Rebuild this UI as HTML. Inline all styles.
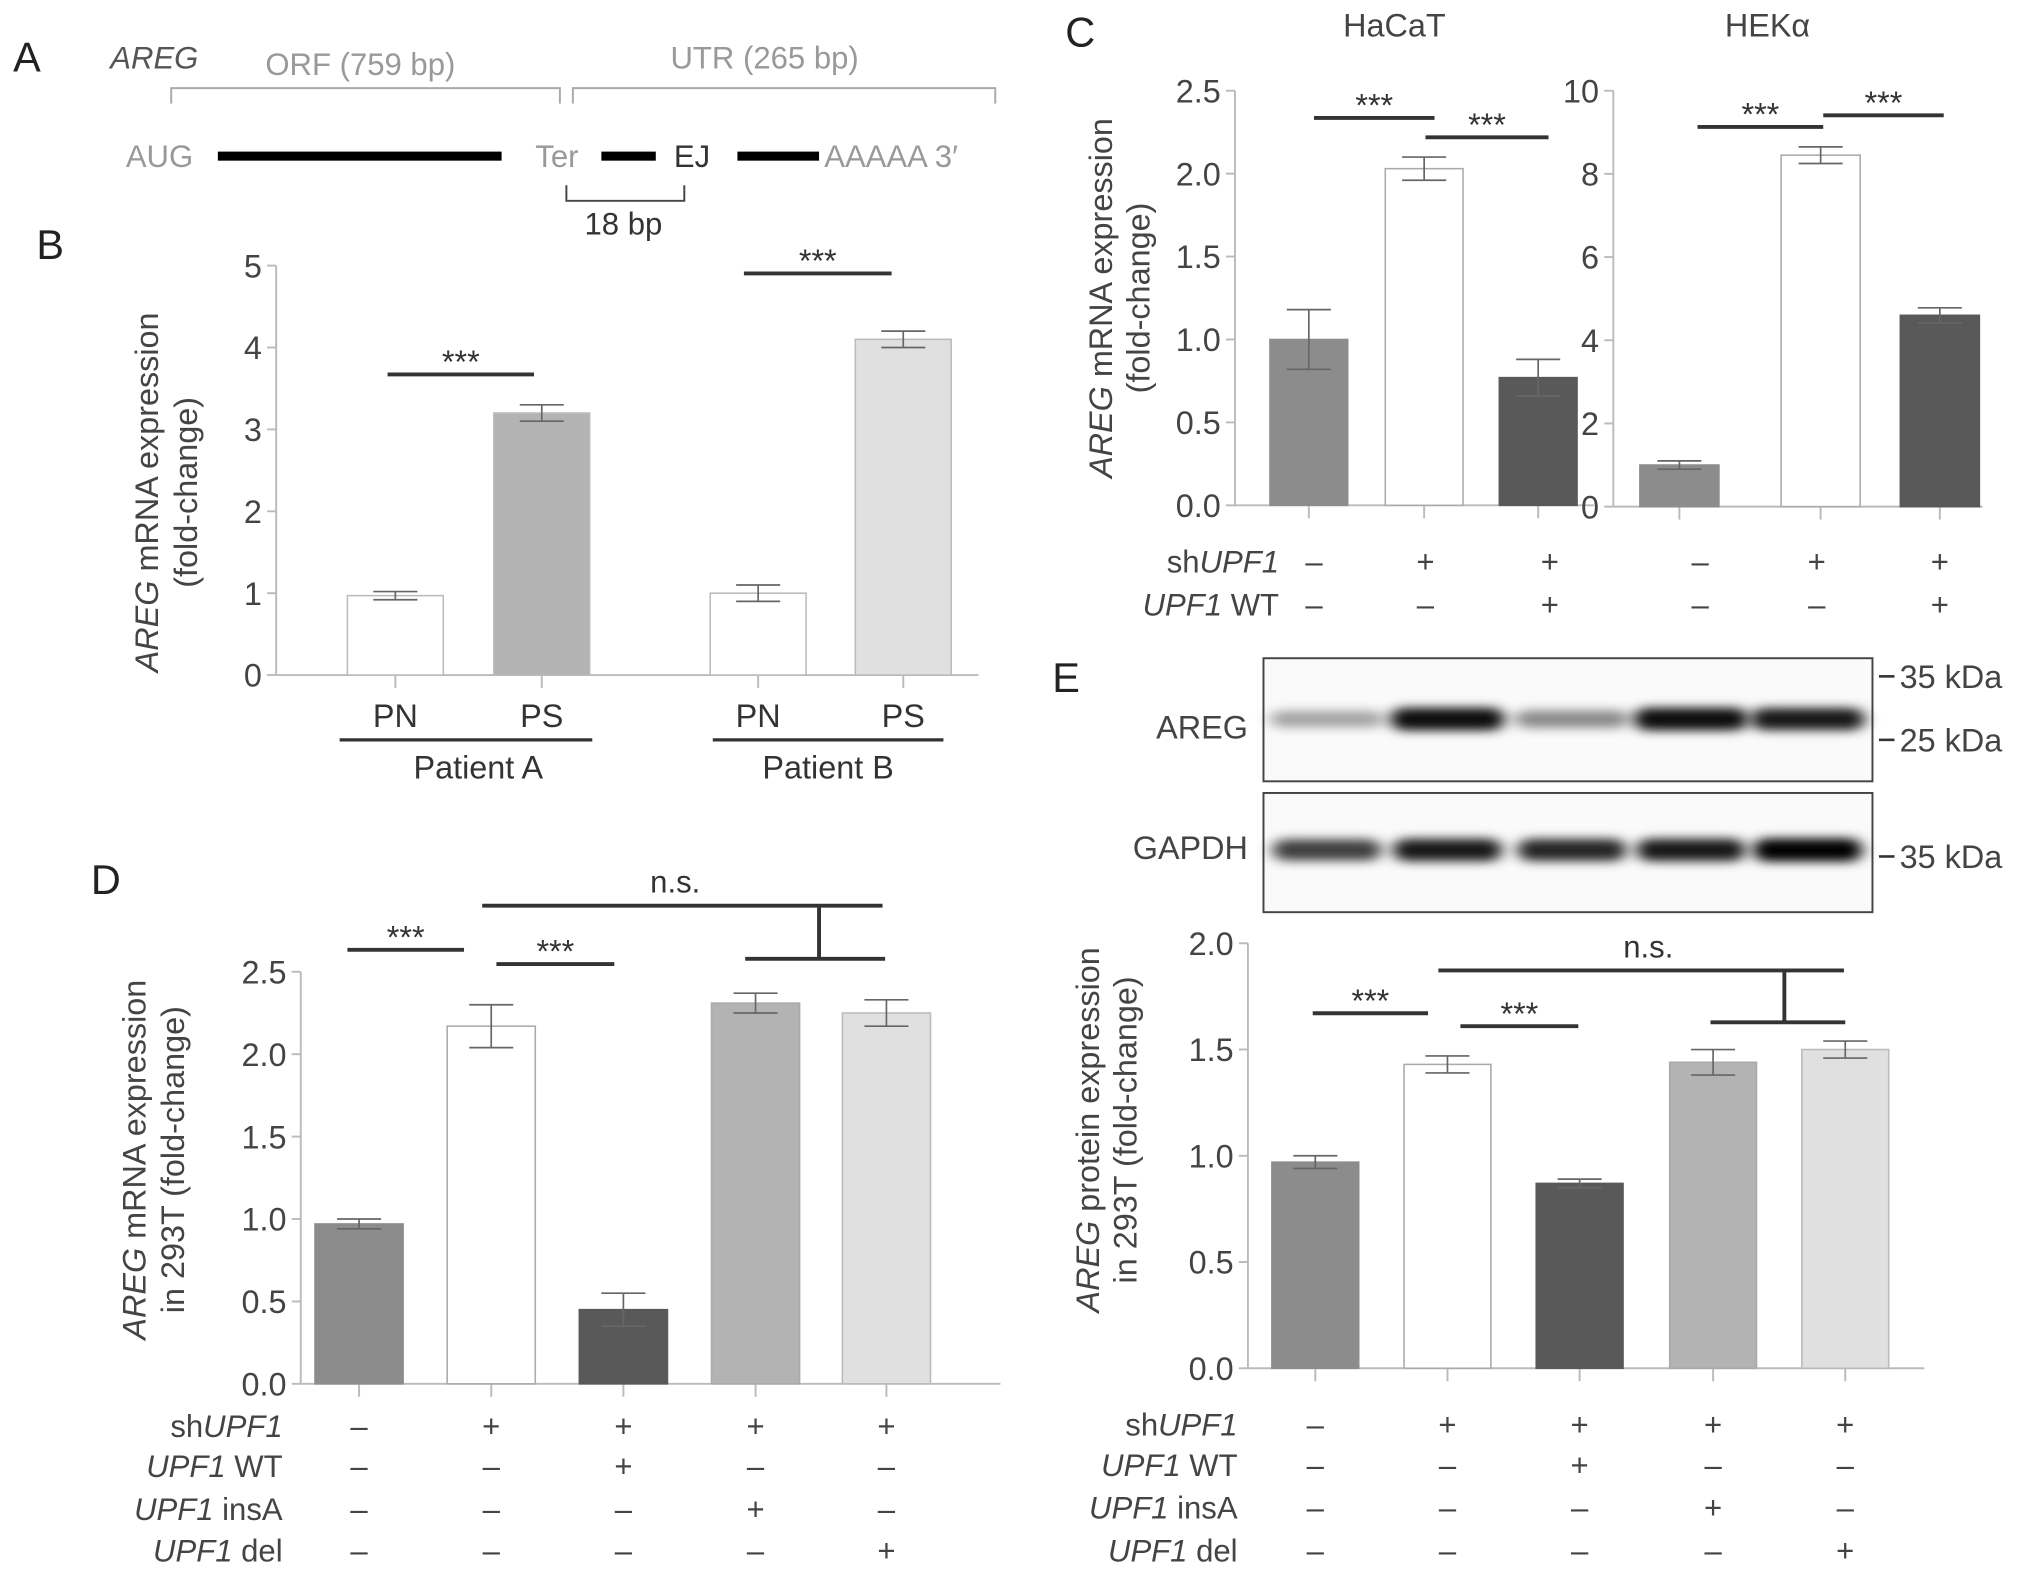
<!DOCTYPE html>
<html><head><meta charset="utf-8"><style>
html,body{margin:0;padding:0;background:#fff}
svg{display:block;font-family:"Liberation Sans",sans-serif}
</style></head><body>
<svg id="fig" width="2032" height="1573" viewBox="0 0 1568 1214" xmlns="http://www.w3.org/2000/svg">
<rect width="1568" height="1214" fill="#fff"/>
<g font-size="24">
<text x="10" y="55" font-size="32" fill="#222">A</text>
<text x="85" y="53" font-style="italic" fill="#555">AREG</text>
<text x="278" y="58" text-anchor="middle" fill="#999">ORF (759 bp)</text>
<text x="590" y="53" text-anchor="middle" fill="#999">UTR (265 bp)</text>
<path d="M132,80V68H432V80M442,80V68H768V80" fill="none" stroke="#aaa" stroke-width="1.5"/>
<text x="97" y="129" fill="#999">AUG</text>
<rect x="168" y="117" width="219" height="7" fill="#000"/>
<text x="413" y="129" fill="#999">Ter</text>
<rect x="464" y="117" width="42" height="7" fill="#000"/>
<text x="520" y="129" fill="#333">EJ</text>
<rect x="569" y="117" width="63" height="7" fill="#000"/>
<text x="636" y="129" fill="#999">AAAAA 3′</text>
<path d="M437,143V155H528V143" fill="none" stroke="#444" stroke-width="1.5"/>
<text x="481" y="181" text-anchor="middle" fill="#333">18 bp</text>
</g>
<text x="28" y="200" font-size="32" fill="#222">B</text>
<text x="822" y="36" font-size="32" fill="#222">C</text>
<text x="70" y="690" font-size="32" fill="#222">D</text>
<text x="812" y="534" font-size="32" fill="#222">E</text>
<g id="charts"></g>
<g id="blot"></g>
</svg>
<script>
// Panel B data
const bCats=["PN","PS","PN","PS"];
const bVals=[0.97,3.2,1.0,4.1];
const bErr=[0.05,0.1,0.1,0.1];
const bTicks=[0,1,2,3,4,5];
// Panel C HaCaT
const cHVals=[1.0,2.03,0.77];
const cHErr=[0.18,0.07,0.11];
const cHTicks=["0.0","0.5","1.0","1.5","2.0","2.5"];
// Panel C HEK
const cKVals=[1.0,8.45,4.6];
const cKErr=[0.1,0.2,0.18];
const cKTicks=[0,2,4,6,8,10];
// Panel D
const dVals=[0.97,2.17,0.45,2.31,2.25];
const dErr=[0.03,0.13,0.1,0.06,0.08];
const dTicks=["0.0","0.5","1.0","1.5","2.0","2.5"];
// Panel E
const eVals=[0.97,1.43,0.87,1.44,1.5];
const eErr=[0.03,0.04,0.02,0.06,0.04];
const eTicks=["0.0","0.5","1.0","1.5","2.0"];
// Blot band intensities (0-1)
const aregBands=[0.35,0.95,0.45,0.95,0.9];
const gapdhBands=[0.75,0.9,0.85,0.9,1.0];

const NS="http://www.w3.org/2000/svg";
const root=document.getElementById('charts');
function el(tag,attrs,parent){const e=document.createElementNS(NS,tag);for(const k in attrs)e.setAttribute(k,attrs[k]);(parent||root).appendChild(e);return e;}
function txt(s,attrs,parent){const e=el('text',attrs,parent);e.textContent=s;return e;}

function chart(o){
  const g=el('g',{});
  
  
  const ymax=+o.ticks[o.ticks.length-1];
  const y=v=>o.y0-(v/ymax)*(o.y0-o.y1);
  const n=o.vals.length;
  const step=(o.xr-o.xl)/n;
  const cx=i=>o.centers?o.centers[i]:o.xl+step*(i+0.5);
  el('line',{x1:o.xl,y1:o.y0,x2:o.xl,y2:o.y1,stroke:'#bbb','stroke-width':1.5},g);
  el('line',{x1:o.xl,y1:o.y0,x2:o.xr,y2:o.y0,stroke:'#bbb','stroke-width':1.5},g);
  o.ticks.forEach(t=>{
    const yy=y(+t);
    el('line',{x1:o.xl-7,y1:yy,x2:o.xl,y2:yy,stroke:'#bbb','stroke-width':1.5},g);
    const tl=txt(String(t),{x:o.xl-11,y:yy+9,'text-anchor':'end','font-size':25,fill:'#444'},g);
    
    
  });
  o.vals.forEach((v,i)=>{
    const c=cx(i);
    el('line',{x1:c,y1:o.y0,x2:c,y2:o.y0+10,stroke:'#bbb','stroke-width':1.5},g);
    const r=el('rect',{x:c-o.bw/2,y:y(v),width:o.bw,height:o.y0-y(v),fill:o.colors[i],stroke:o.strokes?o.strokes[i]:'#bbb','stroke-width':1.2},g);
    
    
    const e=o.err[i];
    el('path',{d:`M${c},${y(v+e)}V${y(v-e)}M${c-17},${y(v+e)}H${c+17}M${c-17},${y(v-e)}H${c+17}`,stroke:'#666','stroke-width':1.3,fill:'none'},g);
  });
  (o.sig||[]).forEach(s=>{
    el('line',{x1:s[0],y1:s[2],x2:s[1],y2:s[2],stroke:'#333','stroke-width':3},g);
    txt('***',{x:(s[0]+s[1])/2,y:s[2]-1,'text-anchor':'middle','font-size':25,fill:'#333'},g);
  });
  if(o.ns){const s=o.ns;
    el('path',{d:`M${s[0]},${s[1]}H${s[2]}M${s[3]},${s[1]}V${s[4]}M${s[5]},${s[4]}H${s[6]}`,stroke:'#333','stroke-width':3,fill:'none'},g);
    txt('n.s.',{x:s[7],y:s[1]-10,'text-anchor':'middle','font-size':24,fill:'#333'},g);
  }
  if(o.title){
    const t=txt('',{transform:`translate(${o.title[0]},${o.title[2]}) rotate(-90)`,'text-anchor':'middle','font-size':25,fill:'#444'},g);
    
    
    t.innerHTML=o.title[3];
    const t2=txt(o.title[4],{transform:`translate(${o.title[1]},${o.title[2]}) rotate(-90)`,'text-anchor':'middle','font-size':25,fill:'#444'},g);
    
    
  }
  if(o.rows){
    o.rows.forEach((r,ri)=>{
      const yy=o.rowY[ri];
      const l=txt('',{x:o.rowLabelX,y:yy+9,'text-anchor':'end','font-size':24,fill:'#444'},g);
      l.innerHTML=r[0];
      
      
      r[1].forEach((s,i)=>{
        txt(s?'+':'–',{x:o.rowX?o.rowX[i]:cx(i),y:yy+9,'text-anchor':'middle','font-size':24,fill:'#444'},g);
      });
    });
  }
  return {g,cx,y};
}

// Panel B
const B=chart({name:'chart-b',xl:213,xr:755,y0:521,y1:205,ticks:bTicks,vals:bVals,err:bErr,bw:74,
  centers:[305,418,585,697],colors:['#fff','#b3b3b3','#fff','#e0e0e0'],
  sig:[[299,412,289],[574,688,211]],
  title:[122,152,380,'<tspan font-style="italic">AREG</tspan> mRNA expression','(fold-change)']});
bCats.forEach((c,i)=>{txt(c,{x:B.cx(i),y:561,'text-anchor':'middle','font-size':25,fill:'#333'},B.g);});
el('line',{x1:262,y1:571,x2:457,y2:571,stroke:'#333','stroke-width':2.5},B.g);
el('line',{x1:550,y1:571,x2:728,y2:571,stroke:'#333','stroke-width':2.5},B.g);
txt('Patient A',{x:369,y:601,'text-anchor':'middle','font-size':25,fill:'#333'},B.g);
txt('Patient B',{x:639,y:601,'text-anchor':'middle','font-size':25,fill:'#333'},B.g);

// Panel C
const rowsC=[['sh<tspan font-style="italic">UPF1</tspan>',[0,1,1]],['<tspan font-style="italic">UPF1</tspan> WT',[0,0,1]]];
const CH=chart({name:'chart-c-hacat',xl:953,xr:1230,y0:390,y1:70,ticks:cHTicks,vals:cHVals,err:cHErr,bw:60,
  centers:[1010,1099,1187],colors:['#8c8c8c','#fff','#595959'],strokes:['#8c8c8c','#aaa','#595959'],
  sig:[[1014,1107,91],[1100,1195,106]],
  title:[858,887,230,'<tspan font-style="italic">AREG</tspan> mRNA expression','(fold-change)'],
  rows:rowsC,rowY:[433,466],rowLabelX:987,rowX:[1014,1100,1196]});
txt('HaCaT',{x:1076,y:28,'text-anchor':'middle','font-size':25,fill:'#444'},CH.g);
const CK=chart({name:'chart-c-heka',xl:1245,xr:1530,y0:391,y1:70,ticks:cKTicks,vals:cKVals,err:cKErr,bw:61,
  centers:[1296,1405,1497],colors:['#8c8c8c','#fff','#595959'],strokes:['#8c8c8c','#aaa','#595959'],
  sig:[[1310,1407,98],[1407,1500,89]],
  rows:[['',[0,1,1]],['',[0,0,1]]],rowY:[433,466],rowLabelX:1240,rowX:[1312,1402,1497]});
txt('HEKα',{x:1364,y:28,'text-anchor':'middle','font-size':25,fill:'#444'},CK.g);

// Panel D
const rows5=[['sh<tspan font-style="italic">UPF1</tspan>',[0,1,1,1,1]],['<tspan font-style="italic">UPF1</tspan> WT',[0,0,1,0,0]],['<tspan font-style="italic">UPF1</tspan> insA',[0,0,0,1,0]],['<tspan font-style="italic">UPF1</tspan> del',[0,0,0,0,1]]];
const cols5=['#8c8c8c','#fff','#595959','#b3b3b3','#e0e0e0'];
const str5=['#8c8c8c','#aaa','#595959','#aaa','#bbb'];
chart({name:'chart-d',xl:232,xr:772,y0:1068,y1:750,ticks:dTicks,vals:dVals,err:dErr,bw:68,
  centers:[277,379,481,583,684],colors:cols5,strokes:str5,
  sig:[[268,358,733],[383,474,744]],ns:[372,699,681,632,740,575,683,521],
  title:[112,142,895,'<tspan font-style="italic">AREG</tspan> mRNA expression','in 293T (fold-change)'],
  rows:rows5,rowY:[1100,1131,1164,1196],rowLabelX:218});

// Panel E chart
chart({name:'chart-e',xl:963,xr:1485,y0:1056,y1:728,ticks:eTicks,vals:eVals,err:eErr,bw:67,
  centers:[1015,1117,1219,1322,1424],colors:cols5,strokes:str5,
  sig:[[1013,1102,782],[1127,1218,792]],ns:[1110,749,1423,1377,789,1320,1424,1272],
  title:[848,877,872,'<tspan font-style="italic">AREG</tspan> protein expression','in 293T (fold-change)'],
  rows:rows5,rowY:[1099,1130,1163,1196],rowLabelX:955});

// Western blot
const blot=document.getElementById('blot');
const defs=el('defs',{},blot);
const f=el('filter',{id:'blur',x:'-20%',y:'-100%',width:'140%',height:'300%'},defs);
el('feGaussianBlur',{stdDeviation:'6 4'},f);
el('rect',{x:975,y:508,width:470,height:95,fill:'#fafafa',stroke:'#444','stroke-width':1.5},blot);
el('rect',{x:975,y:612,width:470,height:92,fill:'#fafafa',stroke:'#444','stroke-width':1.5},blot);
const lanes=[1024,1117,1213,1305,1395];
aregBands.forEach((v,i)=>{
  const b=el('rect',{x:lanes[i]-44,y:555-5-v*4,width:88,height:10+v*8,rx:10,fill:'#000','fill-opacity':v,filter:'url(#blur)'},blot);
  
  
});
gapdhBands.forEach((v,i)=>{
  const b=el('rect',{x:lanes[i]-42,y:656-6-v*3,width:84,height:12+v*6,rx:10,fill:'#000','fill-opacity':v,filter:'url(#blur)'},blot);
  
  
});
txt('AREG',{x:963,y:570,'text-anchor':'end','font-size':25,fill:'#444'},blot);
txt('GAPDH',{x:963,y:663,'text-anchor':'end','font-size':25,fill:'#444'},blot);
[[522,'35 kDa'],[571,'25 kDa'],[661,'35 kDa']].forEach(m=>{
  el('line',{x1:1450,y1:m[0],x2:1462,y2:m[0],stroke:'#333','stroke-width':2},blot);
  txt(m[1],{x:1466,y:m[0]+9,'font-size':25,fill:'#444'},blot);
});
</script>
</body></html>
